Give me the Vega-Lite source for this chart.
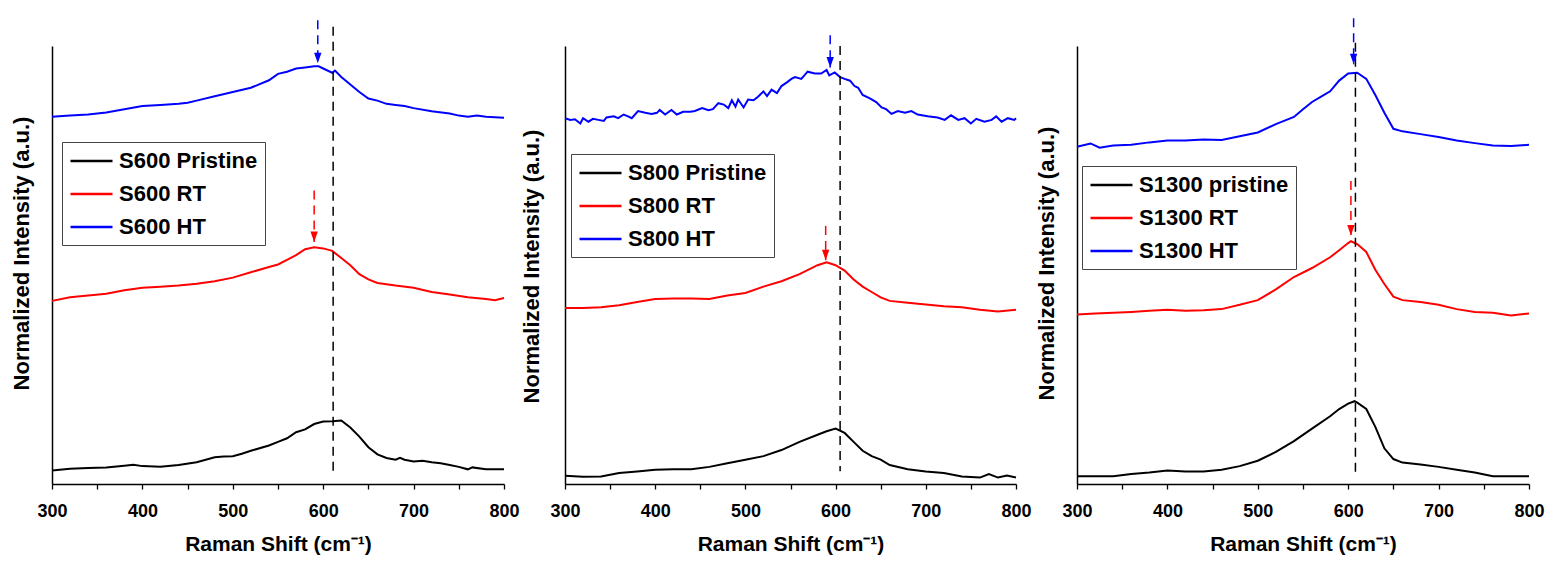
{
  "$schema": "https://vega.github.io/schema/vega-lite/v6.json",
  "padding": {"left": 10, "top": 17, "right": 5, "bottom": 3},
  "background": "white",
  "spacing": 61,
  "bounds": "flush",
  "config": {
    "view": {"stroke": null},
    "font": "Liberation Sans",
    "axis": {"grid": false, "domainColor": "#000000", "domainWidth": 1.5, "tickColor": "#000000", "tickWidth": 1.3, "labelColor": "#000000", "titleColor": "#000000", "labelFont": "Liberation Sans", "titleFont": "Liberation Sans"},
    "legend": {"orient": "none", "strokeColor": "#444444", "padding": 7, "symbolType": "M-1,0L3,0", "symbolSize": 441, "symbolStrokeWidth": 2.4, "labelFontSize": 22, "labelFontWeight": "bold", "labelColor": "#000000", "labelFont": "Liberation Sans", "rowPadding": 10, "labelOffset": 26, "labelLimit": 400, "fillColor": "white"}
  },
  "resolve": {"scale": {"color": "independent", "x": "independent", "y": "independent"}, "legend": {"color": "independent"}},
  "datasets": {
    "p1": [
      {"shift":300,"intensity":12.7,"series":"S600 Pristine"},{"shift":320,"intensity":14.3,"series":"S600 Pristine"},{"shift":340,"intensity":15,"series":"S600 Pristine"},{"shift":360,"intensity":15.3,"series":"S600 Pristine"},{"shift":380,"intensity":17,"series":"S600 Pristine"},{"shift":390,"intensity":18,"series":"S600 Pristine"},{"shift":400,"intensity":16.7,"series":"S600 Pristine"},{"shift":420,"intensity":16,"series":"S600 Pristine"},{"shift":440,"intensity":17.7,"series":"S600 Pristine"},{"shift":460,"intensity":20.3,"series":"S600 Pristine"},{"shift":480,"intensity":25,"series":"S600 Pristine"},{"shift":490,"intensity":25.7,"series":"S600 Pristine"},{"shift":500,"intensity":26,"series":"S600 Pristine"},{"shift":510,"intensity":28.3,"series":"S600 Pristine"},{"shift":520,"intensity":31,"series":"S600 Pristine"},{"shift":540,"intensity":36,"series":"S600 Pristine"},{"shift":550,"intensity":39.3,"series":"S600 Pristine"},{"shift":560,"intensity":42.7,"series":"S600 Pristine"},{"shift":570,"intensity":48.3,"series":"S600 Pristine"},{"shift":580,"intensity":51,"series":"S600 Pristine"},{"shift":590,"intensity":56,"series":"S600 Pristine"},{"shift":600,"intensity":58.3,"series":"S600 Pristine"},{"shift":610,"intensity":58.7,"series":"S600 Pristine"},{"shift":620,"intensity":59.3,"series":"S600 Pristine"},{"shift":630,"intensity":52.7,"series":"S600 Pristine"},{"shift":640,"intensity":44.3,"series":"S600 Pristine"},{"shift":650,"intensity":34.3,"series":"S600 Pristine"},{"shift":660,"intensity":27.7,"series":"S600 Pristine"},{"shift":670,"intensity":24.3,"series":"S600 Pristine"},{"shift":680,"intensity":22.7,"series":"S600 Pristine"},{"shift":685,"intensity":24.5,"series":"S600 Pristine"},{"shift":690,"intensity":22.7,"series":"S600 Pristine"},{"shift":700,"intensity":21,"series":"S600 Pristine"},{"shift":710,"intensity":21.7,"series":"S600 Pristine"},{"shift":720,"intensity":20.3,"series":"S600 Pristine"},{"shift":730,"intensity":19.3,"series":"S600 Pristine"},{"shift":740,"intensity":17.7,"series":"S600 Pristine"},{"shift":750,"intensity":16,"series":"S600 Pristine"},{"shift":760,"intensity":13.7,"series":"S600 Pristine"},{"shift":765,"intensity":15.5,"series":"S600 Pristine"},{"shift":780,"intensity":13.7,"series":"S600 Pristine"},{"shift":800,"intensity":13.7,"series":"S600 Pristine"},
      {"shift":300,"intensity":171,"series":"S600 RT"},{"shift":320,"intensity":174.3,"series":"S600 RT"},{"shift":340,"intensity":176,"series":"S600 RT"},{"shift":360,"intensity":177.7,"series":"S600 RT"},{"shift":380,"intensity":181,"series":"S600 RT"},{"shift":400,"intensity":183.3,"series":"S600 RT"},{"shift":420,"intensity":184.3,"series":"S600 RT"},{"shift":440,"intensity":185.3,"series":"S600 RT"},{"shift":460,"intensity":187,"series":"S600 RT"},{"shift":480,"intensity":189.3,"series":"S600 RT"},{"shift":500,"intensity":192.7,"series":"S600 RT"},{"shift":520,"intensity":197.7,"series":"S600 RT"},{"shift":540,"intensity":202.7,"series":"S600 RT"},{"shift":550,"intensity":205,"series":"S600 RT"},{"shift":560,"intensity":209.3,"series":"S600 RT"},{"shift":570,"intensity":213.7,"series":"S600 RT"},{"shift":580,"intensity":219.3,"series":"S600 RT"},{"shift":590,"intensity":221,"series":"S600 RT"},{"shift":600,"intensity":220,"series":"S600 RT"},{"shift":610,"intensity":217.7,"series":"S600 RT"},{"shift":620,"intensity":211,"series":"S600 RT"},{"shift":630,"intensity":204.3,"series":"S600 RT"},{"shift":640,"intensity":196,"series":"S600 RT"},{"shift":650,"intensity":191,"series":"S600 RT"},{"shift":660,"intensity":187.7,"series":"S600 RT"},{"shift":680,"intensity":185.3,"series":"S600 RT"},{"shift":700,"intensity":183.3,"series":"S600 RT"},{"shift":720,"intensity":179.3,"series":"S600 RT"},{"shift":740,"intensity":177,"series":"S600 RT"},{"shift":760,"intensity":174.3,"series":"S600 RT"},{"shift":780,"intensity":172.7,"series":"S600 RT"},{"shift":790,"intensity":171.7,"series":"S600 RT"},{"shift":800,"intensity":173.7,"series":"S600 RT"},
      {"shift":300,"intensity":343,"series":"S600 HT"},{"shift":320,"intensity":344,"series":"S600 HT"},{"shift":340,"intensity":345,"series":"S600 HT"},{"shift":350,"intensity":346,"series":"S600 HT"},{"shift":360,"intensity":347,"series":"S600 HT"},{"shift":380,"intensity":350,"series":"S600 HT"},{"shift":400,"intensity":353,"series":"S600 HT"},{"shift":420,"intensity":354,"series":"S600 HT"},{"shift":440,"intensity":355,"series":"S600 HT"},{"shift":450,"intensity":356,"series":"S600 HT"},{"shift":460,"intensity":358,"series":"S600 HT"},{"shift":480,"intensity":362,"series":"S600 HT"},{"shift":500,"intensity":366,"series":"S600 HT"},{"shift":520,"intensity":370,"series":"S600 HT"},{"shift":540,"intensity":377,"series":"S600 HT"},{"shift":550,"intensity":383,"series":"S600 HT"},{"shift":560,"intensity":385,"series":"S600 HT"},{"shift":570,"intensity":388,"series":"S600 HT"},{"shift":580,"intensity":389,"series":"S600 HT"},{"shift":590,"intensity":390,"series":"S600 HT"},{"shift":595,"intensity":390,"series":"S600 HT"},{"shift":600,"intensity":388,"series":"S600 HT"},{"shift":610,"intensity":384,"series":"S600 HT"},{"shift":613,"intensity":386,"series":"S600 HT"},{"shift":620,"intensity":380,"series":"S600 HT"},{"shift":630,"intensity":373,"series":"S600 HT"},{"shift":640,"intensity":366,"series":"S600 HT"},{"shift":650,"intensity":360,"series":"S600 HT"},{"shift":660,"intensity":358,"series":"S600 HT"},{"shift":670,"intensity":355,"series":"S600 HT"},{"shift":680,"intensity":354,"series":"S600 HT"},{"shift":690,"intensity":353,"series":"S600 HT"},{"shift":700,"intensity":351,"series":"S600 HT"},{"shift":720,"intensity":348,"series":"S600 HT"},{"shift":740,"intensity":346,"series":"S600 HT"},{"shift":750,"intensity":344,"series":"S600 HT"},{"shift":760,"intensity":343,"series":"S600 HT"},{"shift":770,"intensity":344,"series":"S600 HT"},{"shift":780,"intensity":343,"series":"S600 HT"},{"shift":800,"intensity":342,"series":"S600 HT"}
    ],
    "p2": [
      {"shift":300,"intensity":7.7,"series":"S800 Pristine"},{"shift":320,"intensity":6.7,"series":"S800 Pristine"},{"shift":340,"intensity":7,"series":"S800 Pristine"},{"shift":360,"intensity":10.3,"series":"S800 Pristine"},{"shift":380,"intensity":11.7,"series":"S800 Pristine"},{"shift":400,"intensity":13.3,"series":"S800 Pristine"},{"shift":420,"intensity":13.7,"series":"S800 Pristine"},{"shift":440,"intensity":13.7,"series":"S800 Pristine"},{"shift":460,"intensity":16,"series":"S800 Pristine"},{"shift":480,"intensity":19.3,"series":"S800 Pristine"},{"shift":500,"intensity":22.7,"series":"S800 Pristine"},{"shift":520,"intensity":26,"series":"S800 Pristine"},{"shift":540,"intensity":31.7,"series":"S800 Pristine"},{"shift":560,"intensity":39.3,"series":"S800 Pristine"},{"shift":580,"intensity":46,"series":"S800 Pristine"},{"shift":590,"intensity":49.3,"series":"S800 Pristine"},{"shift":600,"intensity":51.7,"series":"S800 Pristine"},{"shift":610,"intensity":47.7,"series":"S800 Pristine"},{"shift":620,"intensity":39.3,"series":"S800 Pristine"},{"shift":630,"intensity":31,"series":"S800 Pristine"},{"shift":640,"intensity":26,"series":"S800 Pristine"},{"shift":650,"intensity":22.7,"series":"S800 Pristine"},{"shift":660,"intensity":17.7,"series":"S800 Pristine"},{"shift":680,"intensity":13.7,"series":"S800 Pristine"},{"shift":700,"intensity":11.7,"series":"S800 Pristine"},{"shift":720,"intensity":10.3,"series":"S800 Pristine"},{"shift":740,"intensity":7,"series":"S800 Pristine"},{"shift":760,"intensity":6,"series":"S800 Pristine"},{"shift":770,"intensity":9.3,"series":"S800 Pristine"},{"shift":780,"intensity":6,"series":"S800 Pristine"},{"shift":790,"intensity":8,"series":"S800 Pristine"},{"shift":800,"intensity":6,"series":"S800 Pristine"},
      {"shift":300,"intensity":164.3,"series":"S800 RT"},{"shift":320,"intensity":164.3,"series":"S800 RT"},{"shift":340,"intensity":165,"series":"S800 RT"},{"shift":360,"intensity":167,"series":"S800 RT"},{"shift":380,"intensity":170,"series":"S800 RT"},{"shift":400,"intensity":172.7,"series":"S800 RT"},{"shift":420,"intensity":173.3,"series":"S800 RT"},{"shift":440,"intensity":173.3,"series":"S800 RT"},{"shift":460,"intensity":172.7,"series":"S800 RT"},{"shift":480,"intensity":176,"series":"S800 RT"},{"shift":500,"intensity":178.3,"series":"S800 RT"},{"shift":520,"intensity":184.3,"series":"S800 RT"},{"shift":540,"intensity":189.3,"series":"S800 RT"},{"shift":560,"intensity":196,"series":"S800 RT"},{"shift":580,"intensity":204.3,"series":"S800 RT"},{"shift":590,"intensity":207,"series":"S800 RT"},{"shift":600,"intensity":204.3,"series":"S800 RT"},{"shift":610,"intensity":199.3,"series":"S800 RT"},{"shift":620,"intensity":191,"series":"S800 RT"},{"shift":630,"intensity":184.3,"series":"S800 RT"},{"shift":640,"intensity":179.3,"series":"S800 RT"},{"shift":650,"intensity":174.3,"series":"S800 RT"},{"shift":660,"intensity":171,"series":"S800 RT"},{"shift":680,"intensity":169.3,"series":"S800 RT"},{"shift":700,"intensity":167.7,"series":"S800 RT"},{"shift":720,"intensity":166,"series":"S800 RT"},{"shift":740,"intensity":165,"series":"S800 RT"},{"shift":760,"intensity":162.7,"series":"S800 RT"},{"shift":780,"intensity":161,"series":"S800 RT"},{"shift":800,"intensity":162.7,"series":"S800 RT"},
      {"shift":300,"intensity":341.6,"series":"S800 HT"},{"shift":306,"intensity":340,"series":"S800 HT"},{"shift":311,"intensity":340.6,"series":"S800 HT"},{"shift":317,"intensity":336.6,"series":"S800 HT"},{"shift":320,"intensity":341.6,"series":"S800 HT"},{"shift":326,"intensity":338.3,"series":"S800 HT"},{"shift":331,"intensity":341,"series":"S800 HT"},{"shift":337,"intensity":340,"series":"S800 HT"},{"shift":343,"intensity":339,"series":"S800 HT"},{"shift":346,"intensity":342.3,"series":"S800 HT"},{"shift":354,"intensity":343.3,"series":"S800 HT"},{"shift":359,"intensity":341.6,"series":"S800 HT"},{"shift":365,"intensity":345,"series":"S800 HT"},{"shift":370,"intensity":343.3,"series":"S800 HT"},{"shift":374,"intensity":341.6,"series":"S800 HT"},{"shift":381,"intensity":348.3,"series":"S800 HT"},{"shift":389,"intensity":346.6,"series":"S800 HT"},{"shift":396,"intensity":345.6,"series":"S800 HT"},{"shift":402,"intensity":346.6,"series":"S800 HT"},{"shift":405,"intensity":349.3,"series":"S800 HT"},{"shift":411,"intensity":345,"series":"S800 HT"},{"shift":418,"intensity":349.3,"series":"S800 HT"},{"shift":424,"intensity":345,"series":"S800 HT"},{"shift":431,"intensity":347.6,"series":"S800 HT"},{"shift":439,"intensity":347.6,"series":"S800 HT"},{"shift":444,"intensity":348.3,"series":"S800 HT"},{"shift":452,"intensity":351,"series":"S800 HT"},{"shift":459,"intensity":349,"series":"S800 HT"},{"shift":464,"intensity":350,"series":"S800 HT"},{"shift":470,"intensity":355.6,"series":"S800 HT"},{"shift":476,"intensity":354.3,"series":"S800 HT"},{"shift":481,"intensity":351,"series":"S800 HT"},{"shift":485,"intensity":358.3,"series":"S800 HT"},{"shift":489,"intensity":352.3,"series":"S800 HT"},{"shift":492,"intensity":359,"series":"S800 HT"},{"shift":498,"intensity":351.6,"series":"S800 HT"},{"shift":503,"intensity":359,"series":"S800 HT"},{"shift":509,"intensity":358.3,"series":"S800 HT"},{"shift":514,"intensity":361.6,"series":"S800 HT"},{"shift":520,"intensity":366.6,"series":"S800 HT"},{"shift":524,"intensity":362.3,"series":"S800 HT"},{"shift":529,"intensity":368.3,"series":"S800 HT"},{"shift":535,"intensity":365,"series":"S800 HT"},{"shift":540,"intensity":371.6,"series":"S800 HT"},{"shift":546,"intensity":375,"series":"S800 HT"},{"shift":551,"intensity":378.3,"series":"S800 HT"},{"shift":555,"intensity":380,"series":"S800 HT"},{"shift":562,"intensity":378.3,"series":"S800 HT"},{"shift":569,"intensity":385,"series":"S800 HT"},{"shift":577,"intensity":383.3,"series":"S800 HT"},{"shift":584,"intensity":383.3,"series":"S800 HT"},{"shift":590,"intensity":386.6,"series":"S800 HT"},{"shift":593,"intensity":381.6,"series":"S800 HT"},{"shift":599,"intensity":384.3,"series":"S800 HT"},{"shift":605,"intensity":380,"series":"S800 HT"},{"shift":610,"intensity":378.3,"series":"S800 HT"},{"shift":616,"intensity":376.6,"series":"S800 HT"},{"shift":621,"intensity":371.6,"series":"S800 HT"},{"shift":625,"intensity":370,"series":"S800 HT"},{"shift":630,"intensity":363.3,"series":"S800 HT"},{"shift":638,"intensity":360,"series":"S800 HT"},{"shift":645,"intensity":356.6,"series":"S800 HT"},{"shift":651,"intensity":351.6,"series":"S800 HT"},{"shift":656,"intensity":350,"series":"S800 HT"},{"shift":662,"intensity":345.6,"series":"S800 HT"},{"shift":669,"intensity":348.3,"series":"S800 HT"},{"shift":677,"intensity":346.6,"series":"S800 HT"},{"shift":684,"intensity":348.3,"series":"S800 HT"},{"shift":691,"intensity":345,"series":"S800 HT"},{"shift":702,"intensity":343.3,"series":"S800 HT"},{"shift":713,"intensity":342.3,"series":"S800 HT"},{"shift":721,"intensity":340,"series":"S800 HT"},{"shift":728,"intensity":344.3,"series":"S800 HT"},{"shift":736,"intensity":340,"series":"S800 HT"},{"shift":743,"intensity":341.6,"series":"S800 HT"},{"shift":750,"intensity":336.6,"series":"S800 HT"},{"shift":756,"intensity":341,"series":"S800 HT"},{"shift":765,"intensity":338.3,"series":"S800 HT"},{"shift":773,"intensity":340,"series":"S800 HT"},{"shift":778,"intensity":343.3,"series":"S800 HT"},{"shift":784,"intensity":338.3,"series":"S800 HT"},{"shift":791,"intensity":341.6,"series":"S800 HT"},{"shift":798,"intensity":340,"series":"S800 HT"},{"shift":800,"intensity":341.6,"series":"S800 HT"}
    ],
    "p3": [
      {"shift":300,"intensity":7.3,"series":"S1300 pristine"},{"shift":320,"intensity":7.3,"series":"S1300 pristine"},{"shift":340,"intensity":7.3,"series":"S1300 pristine"},{"shift":360,"intensity":9.3,"series":"S1300 pristine"},{"shift":380,"intensity":10.7,"series":"S1300 pristine"},{"shift":400,"intensity":12.7,"series":"S1300 pristine"},{"shift":420,"intensity":11.7,"series":"S1300 pristine"},{"shift":440,"intensity":11.7,"series":"S1300 pristine"},{"shift":460,"intensity":13.3,"series":"S1300 pristine"},{"shift":480,"intensity":16.7,"series":"S1300 pristine"},{"shift":500,"intensity":21.7,"series":"S1300 pristine"},{"shift":520,"intensity":30,"series":"S1300 pristine"},{"shift":540,"intensity":40,"series":"S1300 pristine"},{"shift":560,"intensity":51.7,"series":"S1300 pristine"},{"shift":580,"intensity":63.3,"series":"S1300 pristine"},{"shift":590,"intensity":70,"series":"S1300 pristine"},{"shift":600,"intensity":75,"series":"S1300 pristine"},{"shift":607,"intensity":77.3,"series":"S1300 pristine"},{"shift":610,"intensity":76,"series":"S1300 pristine"},{"shift":620,"intensity":70,"series":"S1300 pristine"},{"shift":630,"intensity":53.3,"series":"S1300 pristine"},{"shift":640,"intensity":33.3,"series":"S1300 pristine"},{"shift":650,"intensity":23.3,"series":"S1300 pristine"},{"shift":660,"intensity":20,"series":"S1300 pristine"},{"shift":680,"intensity":18.3,"series":"S1300 pristine"},{"shift":700,"intensity":16,"series":"S1300 pristine"},{"shift":720,"intensity":13.3,"series":"S1300 pristine"},{"shift":740,"intensity":10.7,"series":"S1300 pristine"},{"shift":760,"intensity":7.3,"series":"S1300 pristine"},{"shift":780,"intensity":7.3,"series":"S1300 pristine"},{"shift":800,"intensity":7.3,"series":"S1300 pristine"},
      {"shift":300,"intensity":158.3,"series":"S1300 RT"},{"shift":320,"intensity":159.3,"series":"S1300 RT"},{"shift":340,"intensity":160,"series":"S1300 RT"},{"shift":360,"intensity":160.7,"series":"S1300 RT"},{"shift":380,"intensity":161.7,"series":"S1300 RT"},{"shift":400,"intensity":162.7,"series":"S1300 RT"},{"shift":420,"intensity":161.7,"series":"S1300 RT"},{"shift":440,"intensity":162.3,"series":"S1300 RT"},{"shift":460,"intensity":163.3,"series":"S1300 RT"},{"shift":480,"intensity":167.3,"series":"S1300 RT"},{"shift":500,"intensity":171.7,"series":"S1300 RT"},{"shift":520,"intensity":181.7,"series":"S1300 RT"},{"shift":540,"intensity":193.3,"series":"S1300 RT"},{"shift":560,"intensity":201.7,"series":"S1300 RT"},{"shift":580,"intensity":211.7,"series":"S1300 RT"},{"shift":590,"intensity":218.3,"series":"S1300 RT"},{"shift":600,"intensity":225,"series":"S1300 RT"},{"shift":603,"intensity":226.7,"series":"S1300 RT"},{"shift":610,"intensity":224,"series":"S1300 RT"},{"shift":620,"intensity":216.7,"series":"S1300 RT"},{"shift":630,"intensity":200,"series":"S1300 RT"},{"shift":640,"intensity":186.7,"series":"S1300 RT"},{"shift":650,"intensity":175,"series":"S1300 RT"},{"shift":660,"intensity":171.7,"series":"S1300 RT"},{"shift":680,"intensity":170,"series":"S1300 RT"},{"shift":700,"intensity":167.3,"series":"S1300 RT"},{"shift":720,"intensity":163.3,"series":"S1300 RT"},{"shift":740,"intensity":160.7,"series":"S1300 RT"},{"shift":760,"intensity":160,"series":"S1300 RT"},{"shift":780,"intensity":157.3,"series":"S1300 RT"},{"shift":800,"intensity":159.3,"series":"S1300 RT"},
      {"shift":300,"intensity":315,"series":"S1300 HT"},{"shift":315,"intensity":318,"series":"S1300 HT"},{"shift":325,"intensity":314,"series":"S1300 HT"},{"shift":340,"intensity":316,"series":"S1300 HT"},{"shift":360,"intensity":316.7,"series":"S1300 HT"},{"shift":380,"intensity":319,"series":"S1300 HT"},{"shift":400,"intensity":320.7,"series":"S1300 HT"},{"shift":420,"intensity":320.7,"series":"S1300 HT"},{"shift":440,"intensity":321.7,"series":"S1300 HT"},{"shift":460,"intensity":321.3,"series":"S1300 HT"},{"shift":480,"intensity":324.7,"series":"S1300 HT"},{"shift":500,"intensity":328.3,"series":"S1300 HT"},{"shift":520,"intensity":336,"series":"S1300 HT"},{"shift":540,"intensity":342.7,"series":"S1300 HT"},{"shift":550,"intensity":350,"series":"S1300 HT"},{"shift":560,"intensity":356.7,"series":"S1300 HT"},{"shift":570,"intensity":361.7,"series":"S1300 HT"},{"shift":580,"intensity":366.7,"series":"S1300 HT"},{"shift":590,"intensity":376.7,"series":"S1300 HT"},{"shift":600,"intensity":383.3,"series":"S1300 HT"},{"shift":610,"intensity":384,"series":"S1300 HT"},{"shift":620,"intensity":378.3,"series":"S1300 HT"},{"shift":630,"intensity":363.3,"series":"S1300 HT"},{"shift":640,"intensity":346.7,"series":"S1300 HT"},{"shift":650,"intensity":331.7,"series":"S1300 HT"},{"shift":660,"intensity":329.3,"series":"S1300 HT"},{"shift":680,"intensity":326.7,"series":"S1300 HT"},{"shift":700,"intensity":324,"series":"S1300 HT"},{"shift":720,"intensity":320.7,"series":"S1300 HT"},{"shift":740,"intensity":318.3,"series":"S1300 HT"},{"shift":760,"intensity":316,"series":"S1300 HT"},{"shift":780,"intensity":315.7,"series":"S1300 HT"},{"shift":800,"intensity":316.7,"series":"S1300 HT"}
    ],
    "m1": [
      {"kind":"ref","shift":611,"intensity":427,"intensity2":9},
      {"kind":"HT","shift":594,"intensity":433,"intensity2":393},
      {"kind":"RT","shift":590,"intensity":274,"intensity2":226}
    ],
    "m2": [
      {"kind":"ref","shift":605,"intensity":409,"intensity2":12},
      {"kind":"HT","shift":594,"intensity":419,"intensity2":389},
      {"kind":"RT","shift":589,"intensity":241,"intensity2":209}
    ],
    "m3": [
      {"kind":"ref","shift":608,"intensity":412,"intensity2":6},
      {"kind":"HT","shift":606,"intensity":435,"intensity2":392},
      {"kind":"RT","shift":603,"intensity":283,"intensity2":232}
    ]
  },
  "hconcat": [
    {
      "width": 452, "height": 438,
      "layer": [
        {
          "data": {"name": "p1"},
          "mark": {"type": "line", "strokeWidth": 2, "clip": false},
          "encoding": {
            "x": {"field": "shift", "type": "quantitative", "scale": {"domain": [300, 800], "nice": false, "zero": false},
                  "axis": {"title": "Raman Shift (cm⁻¹)", "values": [300,350,400,450,500,550,600,650,700,750,800], "labelExpr": "datum.value % 100 == 0 ? datum.label : ''", "labelOverlap": false, "labelFlush": false, "tickSize": 5, "labelFontSize": 18, "labelFontWeight": "bold", "labelPadding": 13, "titleFontSize": 21, "titleFontWeight": "bold", "titlePadding": 13}},
            "y": {"field": "intensity", "type": "quantitative", "scale": {"domain": [0, 409], "nice": false, "zero": false},
                  "axis": {"title": "Normalized Intensity (a.u.)", "labels": false, "ticks": false, "titleFontSize": 22, "titleFontWeight": "bold", "titlePadding": 19, "titleY": 207}},
            "color": {"field": "series", "type": "nominal", "scale": {"domain": ["S600 Pristine", "S600 RT", "S600 HT"], "range": ["#000000", "#ff0000", "#0000ff"]},
                      "legend": {"title": null, "legendX": 10, "legendY": 96, "symbolType": "M-1,0L3,0"}}
          }
        },
        {
          "data": {"name": "m1"},
          "mark": {"type": "rule", "strokeDash": [9, 6], "strokeWidth": 1.5, "clip": false},
          "encoding": {
            "x": {"field": "shift", "type": "quantitative"},
            "y": {"field": "intensity", "type": "quantitative"},
            "y2": {"field": "intensity2"},
            "stroke": {"field": "kind", "type": "nominal", "scale": {"domain": ["ref", "HT", "RT"], "range": ["#000000", "#0000ff", "#ff0000"]}, "legend": null}
          }
        },
        {
          "data": {"name": "m1"},
          "transform": [{"filter": "datum.kind != 'ref'"}],
          "mark": {"type": "point", "shape": "M-0.35,-1L0.35,-1L0,0Z", "size": 440, "filled": true, "opacity": 1, "clip": false},
          "encoding": {
            "x": {"field": "shift", "type": "quantitative"},
            "y": {"field": "intensity2", "type": "quantitative"},
            "fill": {"field": "kind", "type": "nominal", "scale": {"domain": ["HT", "RT"], "range": ["#0000ff", "#ff0000"]}, "legend": null}
          }
        }
      ]
    },
    {
      "width": 451, "height": 438,
      "layer": [
        {
          "data": {"name": "p2"},
          "mark": {"type": "line", "strokeWidth": 2, "clip": false},
          "encoding": {
            "x": {"field": "shift", "type": "quantitative", "scale": {"domain": [300, 800], "nice": false, "zero": false},
                  "axis": {"title": "Raman Shift (cm⁻¹)", "values": [300,350,400,450,500,550,600,650,700,750,800], "labelExpr": "datum.value % 100 == 0 ? datum.label : ''", "labelOverlap": false, "labelFlush": false, "tickSize": 5, "labelFontSize": 18, "labelFontWeight": "bold", "labelPadding": 13, "titleFontSize": 21, "titleFontWeight": "bold", "titlePadding": 13}},
            "y": {"field": "intensity", "type": "quantitative", "scale": {"domain": [0, 409], "nice": false, "zero": false},
                  "axis": {"title": "Normalized Intensity (a.u.)", "labels": false, "ticks": false, "titleFontSize": 22, "titleFontWeight": "bold", "titlePadding": 22, "titleY": 220}},
            "color": {"field": "series", "type": "nominal", "scale": {"domain": ["S800 Pristine", "S800 RT", "S800 HT"], "range": ["#000000", "#ff0000", "#0000ff"]},
                      "legend": {"title": null, "legendX": 6, "legendY": 108, "symbolType": "M-1,0L3,0"}}
          }
        },
        {
          "data": {"name": "m2"},
          "mark": {"type": "rule", "strokeDash": [9, 6], "strokeWidth": 1.5, "clip": false},
          "encoding": {
            "x": {"field": "shift", "type": "quantitative"},
            "y": {"field": "intensity", "type": "quantitative"},
            "y2": {"field": "intensity2"},
            "stroke": {"field": "kind", "type": "nominal", "scale": {"domain": ["ref", "HT", "RT"], "range": ["#000000", "#0000ff", "#ff0000"]}, "legend": null}
          }
        },
        {
          "data": {"name": "m2"},
          "transform": [{"filter": "datum.kind != 'ref'"}],
          "mark": {"type": "point", "shape": "M-0.35,-1L0.35,-1L0,0Z", "size": 440, "filled": true, "opacity": 1, "clip": false},
          "encoding": {
            "x": {"field": "shift", "type": "quantitative"},
            "y": {"field": "intensity2", "type": "quantitative"},
            "fill": {"field": "kind", "type": "nominal", "scale": {"domain": ["HT", "RT"], "range": ["#0000ff", "#ff0000"]}, "legend": null}
          }
        }
      ]
    },
    {
      "width": 452, "height": 438,
      "layer": [
        {
          "data": {"name": "p3"},
          "mark": {"type": "line", "strokeWidth": 2, "clip": false},
          "encoding": {
            "x": {"field": "shift", "type": "quantitative", "scale": {"domain": [300, 800], "nice": false, "zero": false},
                  "axis": {"title": "Raman Shift (cm⁻¹)", "values": [300,350,400,450,500,550,600,650,700,750,800], "labelExpr": "datum.value % 100 == 0 ? datum.label : ''", "labelOverlap": false, "labelFlush": false, "tickSize": 5, "labelFontSize": 18, "labelFontWeight": "bold", "labelPadding": 13, "titleFontSize": 21, "titleFontWeight": "bold", "titlePadding": 13}},
            "y": {"field": "intensity", "type": "quantitative", "scale": {"domain": [0, 409], "nice": false, "zero": false},
                  "axis": {"title": "Normalized Intensity (a.u.)", "labels": false, "ticks": false, "titleFontSize": 22, "titleFontWeight": "bold", "titlePadding": 19, "titleY": 217}},
            "color": {"field": "series", "type": "nominal", "scale": {"domain": ["S1300 pristine", "S1300 RT", "S1300 HT"], "range": ["#000000", "#ff0000", "#0000ff"]},
                      "legend": {"title": null, "legendX": 5, "legendY": 120, "symbolType": "M-1,0L3,0"}}
          }
        },
        {
          "data": {"name": "m3"},
          "mark": {"type": "rule", "strokeDash": [9, 6], "strokeWidth": 1.5, "clip": false},
          "encoding": {
            "x": {"field": "shift", "type": "quantitative"},
            "y": {"field": "intensity", "type": "quantitative"},
            "y2": {"field": "intensity2"},
            "stroke": {"field": "kind", "type": "nominal", "scale": {"domain": ["ref", "HT", "RT"], "range": ["#000000", "#0000ff", "#ff0000"]}, "legend": null}
          }
        },
        {
          "data": {"name": "m3"},
          "transform": [{"filter": "datum.kind != 'ref'"}],
          "mark": {"type": "point", "shape": "M-0.35,-1L0.35,-1L0,0Z", "size": 440, "filled": true, "opacity": 1, "clip": false},
          "encoding": {
            "x": {"field": "shift", "type": "quantitative"},
            "y": {"field": "intensity2", "type": "quantitative"},
            "fill": {"field": "kind", "type": "nominal", "scale": {"domain": ["HT", "RT"], "range": ["#0000ff", "#ff0000"]}, "legend": null}
          }
        }
      ]
    }
  ]
}
